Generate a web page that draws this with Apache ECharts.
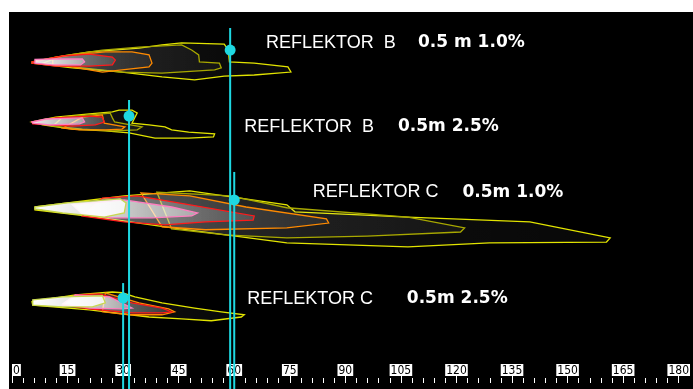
<!DOCTYPE html>
<html>
<head>
<meta charset="utf-8">
<script src="https://cdn.jsdelivr.net/npm/echarts@6/dist/echarts.min.js"></script>
<style>
  html, body { margin: 0; padding: 0; background: #fff; }
  #main { position: absolute; left: 9px; top: 12px; width: 684px; height: 377px; }
</style>
</head>
<body>
<div id="main"></div>
<script>
// x = distance (m), y = row position (m) of each isolux plot
const xTicks = [0, 15, 30, 45, 60, 75, 90, 105, 120, 135, 150, 165, 180];

// Reflektor B, 0.5 m, 1.0 %
const b10Outer = [[5.4,13.4],[11.8,12.1],[20.9,10.7],[34.3,9.7],[40.5,8.8],[45.8,8.3],[57.3,8.6],[58.4,10.2],[58.7,13.4],[65.4,13.7],[74.5,14.7],[75.3,16.1],[65.4,16.9],[57.3,17.2],[49.3,18.2],[40.5,17.4],[29.7,16.1],[16.3,15.0],[5.4,13.7]];
const b10Olive = [[13.7,11.8],[24.4,10.2],[34.3,9.4],[45.8,8.8],[48.5,10.2],[50.4,11.5],[50.6,13.4],[56.0,13.7],[56.5,15.0],[54.7,15.5],[40.5,16.4],[29.7,16.1],[16.3,14.7],[8.3,13.7]];
const b10Orange = [[11.0,12.3],[16.3,11.5],[25.2,10.7],[32.4,10.7],[37.0,11.5],[37.8,13.7],[37.0,14.7],[29.7,15.5],[24.4,16.1],[16.3,14.7],[11.0,14.2]];
const b10Red = [[5.4,13.4],[13.7,11.8],[20.9,11.3],[27.1,12.1],[27.9,12.9],[27.1,14.2],[20.9,14.5],[11.8,14.5],[5.4,13.7]];
const b10Pink = [[6.2,12.7],[11.0,12.6],[19.0,12.6],[19.6,13.4],[18.5,14.2],[11.0,14.2],[6.2,13.7]];

// Reflektor B, 0.5 m, 2.5 %
const b25Outer = [[5.4,29.5],[11.8,28.2],[20.9,27.3],[27.1,26.8],[28.9,26.3],[32.4,26.3],[33.8,27.1],[32.4,29.8],[37.0,30.3],[41.3,30.8],[43.1,31.6],[47.7,32.2],[54.7,32.7],[54.4,33.5],[47.7,33.8],[38.6,33.8],[31.6,32.4],[25.2,31.9],[16.3,31.4],[8.3,30.3]];
const b25Olive = [[13.7,28.2],[24.4,27.3],[26.5,27.1],[27.1,28.4],[27.7,29.5],[30.5,30.0],[35.1,30.8],[33.8,31.6],[27.1,31.9],[19.0,31.4],[11.0,30.6]];
const b25Orange = [[19.0,28.2],[24.4,27.6],[24.9,29.8],[30.5,30.8],[29.7,31.4],[25.2,31.6],[18.2,31.6],[13.7,31.1]];
const b25Red = [[5.4,29.5],[11.8,28.4],[20.9,27.9],[24.4,28.2],[24.9,29.5],[22.5,30.3],[16.3,30.6],[5.6,30.0]];
const b25Pink = [[5.4,29.5],[9.1,28.7],[19.0,28.4],[19.6,29.5],[18.2,30.0],[10.2,30.3],[5.6,29.8]];

// Reflektor C, 0.5 m, 1.0 %
const c10Outer = [[6.2,52.3],[30.3,49.3],[43.4,48.3],[48.0,48.0],[74.2,51.7],[76.4,53.6],[106.9,55.0],[139.8,56.3],[161.5,60.6],[160.5,61.7],[128.9,61.9],[106.9,63.0],[74.2,61.9],[41.3,57.6],[24.4,55.2],[6.2,53.1]];
const c10Olive = [[39.1,48.3],[58.9,49.3],[74.2,52.5],[106.9,55.0],[122.2,57.9],[121.1,59.0],[95.9,60.1],[74.2,60.6],[57.6,59.8],[43.1,58.2]];
const c10Orange = [[34.8,48.5],[48.0,49.3],[63.2,52.3],[84.9,55.5],[85.5,56.6],[74.2,57.9],[52.2,58.4],[40.5,57.6]];
const c10Red = [[24.4,49.9],[33.8,49.3],[46.9,51.5],[65.4,54.7],[65.1,55.8],[52.2,56.3],[41.3,57.1],[30.3,56.3],[19.0,54.7]];
const c10Pink = [[16.3,51.7],[30.3,50.4],[43.1,52.3],[50.1,53.9],[48.5,54.7],[37.8,55.2],[27.1,55.2],[19.0,54.2]];
const c10Core = [[6.2,52.3],[15.0,51.2],[29.2,50.1],[30.8,51.2],[30.3,53.9],[24.9,55.0],[13.7,53.9],[6.2,52.8]];

// Reflektor C, 0.5 m, 2.5 %
const c25Outer = [[5.4,77.7],[17.1,75.9],[24.4,75.3],[27.1,75.1],[29.7,75.3],[33.2,76.4],[40.5,78.0],[49.3,79.4],[56.5,80.4],[62.7,81.2],[61.9,81.8],[53.8,82.8],[45.8,82.3],[37.0,81.8],[20.9,79.9],[5.6,78.6]];
const c25Orange = [[25.2,75.3],[34.3,78.0],[42.3,79.6],[43.9,80.4],[40.5,81.2],[31.6,81.2],[24.4,80.4]];
const c25Red = [[17.1,75.9],[23.6,75.6],[32.4,78.0],[40.5,79.4],[43.1,80.4],[40.5,80.7],[32.4,80.7],[20.9,79.6],[13.7,78.6]];
const c25Pink = [[17.1,75.9],[26.3,76.4],[32.4,79.4],[29.7,79.6],[20.9,79.4],[13.7,78.3]];
const c25Core = [[5.6,77.2],[13.7,76.4],[24.4,76.1],[25.2,78.0],[21.7,79.1],[13.7,79.1],[5.6,78.6]];

// cyan markers: x, top of line, dot
const markX = [58.9, 31.6, 60.0, 30.0];
const markTop = [4.3, 23.6, 42.9, 72.7];
const markDot = [10.2, 27.9, 50.4, 76.7];

// text labels
const names = ['REFLEKTOR  B', 'REFLEKTOR  B', 'REFLEKTOR C', 'REFLEKTOR C'];
const nameX = [68.6, 62.7, 81.2, 63.5];
const values = ['0.5 m 1.0%', '0.5m 2.5%', '0.5m 1.0%', '0.5m 2.5%'];
const valueX = [109.6, 104.2, 121.6, 106.6];
const labelY = [8.3, 30.8, 48.3, 76.9];

const contours = [
  { level: 'outer', pts: b10Outer }, { level: 'olive', pts: b10Olive }, { level: 'orange', pts: b10Orange },
  { level: 'red', pts: b10Red }, { level: 'pink', pts: b10Pink },
  { level: 'outer', pts: b25Outer }, { level: 'olive', pts: b25Olive }, { level: 'orange', pts: b25Orange },
  { level: 'red', pts: b25Red }, { level: 'pink', pts: b25Pink },
  { level: 'outer', pts: c10Outer }, { level: 'olive', pts: c10Olive }, { level: 'orange', pts: c10Orange },
  { level: 'red', pts: c10Red }, { level: 'pink', pts: c10Pink }, { level: 'core', pts: c10Core },
  { level: 'outer', pts: c25Outer }, { level: 'orange', pts: c25Orange },
  { level: 'red', pts: c25Red }, { level: 'pink', pts: c25Pink }, { level: 'core', pts: c25Core },
];

const levelStyle = {
  outer:  { stroke: '#e2e400', a0: 0.08, a1: 0.03 },
  olive:  { stroke: '#a8a800', a0: 0.10, a1: 0.04 },
  orange: { stroke: '#ff8a00', a0: 0.18, a1: 0.06 },
  red:    { stroke: '#ff1a1a', a0: 0.40, a1: 0.12 },
  pink:   { stroke: '#ff7ec0', a0: 0.85, a1: 0.40 },
  core:   { stroke: '#c8d850', a0: 1.00, a1: 0.80 },
};

const cyan = '#1ed8e2';
const chart = echarts.init(document.getElementById('main'));

const markSeries = markX.map((x, i) => ({
  type: 'line',
  data: [[x, markTop[i]], [x, 101.5]],
  symbol: 'none',
  clip: false,
  silent: true,
  z: 5,
  lineStyle: { color: cyan, width: 2, opacity: 1 },
}));

const textLabel = {
  show: true,
  position: 'right',
  distance: 0,
  align: 'left',
  verticalAlign: 'middle',
  color: '#ffffff',
  opacity: 1,
  textBorderWidth: 0,
  formatter: (p) => p.value[2],
};

chart.setOption({
  animation: false,
  backgroundColor: '#000',
  grid: { left: 0, right: 12, top: 0, bottom: 6 },
  xAxis: {
    type: 'value',
    min: 0,
    max: 180,
    interval: 15,
    axisLine: { show: true, onZero: false, lineStyle: { color: 'rgba(0,0,0,0)' } },
    splitLine: { show: false },
    axisTick: { show: true, inside: true, length: 7, lineStyle: { color: '#fff', width: 1 } },
    minorTick: { show: true, splitNumber: 5, length: 5, lineStyle: { color: '#fff', width: 1 } },
    axisLabel: {
      inside: true,
      margin: 7,
      color: '#000',
      backgroundColor: '#fff',
      padding: [2, 1, 0, 1],
      fontSize: 12,
      lineHeight: 10,
      fontFamily: '"Liberation Sans Narrow", "DejaVu Sans Condensed", sans-serif',
      alignMinLabel: 'left',
    },
  },
  yAxis: { type: 'value', min: 0, max: 99.5, inverse: true, show: false },
  series: [
    {
      type: 'custom',
      silent: true,
      z: 2,
      data: contours.map((c, i) => [c.pts[0][0], c.pts[0][1], i]),
      renderItem(params, api) {
        const c = contours[params.dataIndex];
        const st = levelStyle[c.level];
        return {
          type: 'polygon',
          shape: { points: c.pts.map((p) => api.coord(p)) },
          style: {
            fill: new echarts.graphic.LinearGradient(0, 0, 1, 0, [
              { offset: 0, color: `rgba(255,255,255,${st.a0})` },
              { offset: 1, color: `rgba(255,255,255,${st.a1})` },
            ]),
            stroke: st.stroke,
            lineWidth: 1.3,
          },
        };
      },
    },
    ...markSeries,
    {
      type: 'scatter',
      data: markX.map((x, i) => [x, markDot[i]]),
      symbolSize: 11,
      itemStyle: { color: cyan, opacity: 1 },
      silent: true,
      z: 6,
    },
    {
      type: 'scatter',
      data: names.map((n, i) => [nameX[i], labelY[i], n]),
      symbolSize: 0,
      itemStyle: { opacity: 1 },
      silent: true,
      z: 7,
      label: Object.assign({}, textLabel, {
        fontSize: 18,
        fontFamily: '"Liberation Sans", Arial, sans-serif',
      }),
    },
    {
      type: 'scatter',
      data: values.map((v, i) => [valueX[i], labelY[i], v]),
      symbolSize: 0,
      itemStyle: { opacity: 1 },
      silent: true,
      z: 7,
      label: Object.assign({}, textLabel, {
        fontSize: 17,
        fontWeight: 'bold',
        fontFamily: '"DejaVu Sans", sans-serif',
      }),
    },
  ],
});
</script>
</body>
</html>
